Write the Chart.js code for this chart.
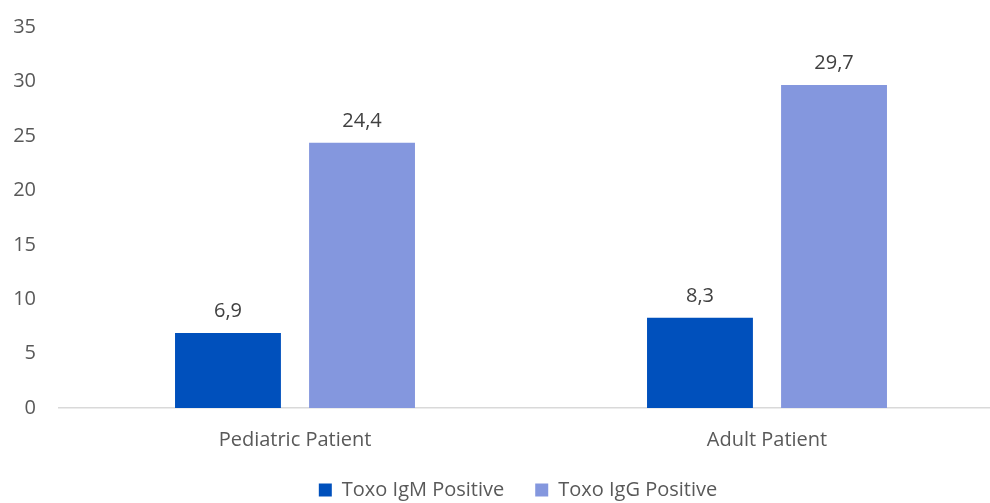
<!DOCTYPE html>
<html>
<head>
<meta charset="utf-8">
<script src="https://cdn.jsdelivr.net/npm/chart.js@4.4.1/dist/chart.umd.min.js"></script>
<style>
  html, body { margin: 0; padding: 0; background: #fff; overflow: hidden; }
  #wrap { position: relative; width: 1036px; height: 503px; }
</style>
</head>
<body>
<div id="wrap"><canvas id="toxoChart"></canvas></div>
<script>
    const categories = ['Pediatric Patient', 'Adult Patient'];
    const igmValues = [6.9, 8.3];
    const iggValues = [24.4, 29.7];
    const seriesNames = ['Toxo IgM Positive', 'Toxo IgG Positive'];
    const yTicks = [0, 5, 10, 15, 20, 25, 30, 35];

    const FONT = '"Open Sans", "Noto Sans", sans-serif';
    const FONT_SIZE = 20;

    // value labels above each bar, comma decimal like the original
    const barLabels = {
        id: 'barLabels',
        afterDatasetsDraw(chart) {
            const c = chart.ctx;
            c.save();
            c.font = FONT_SIZE + 'px ' + FONT;
            c.fillStyle = '#404040';
            c.textAlign = 'center';
            c.textBaseline = 'alphabetic';
            chart.data.datasets.forEach((ds, i) => {
                chart.getDatasetMeta(i).data.forEach((bar, j) => {
                    const txt = ds.data[j].toFixed(1).replace('.', ',');
                    c.fillText(txt, bar.x, bar.y - 16);
                });
            });
            c.restore();
        }
    };

    const ctx = document.getElementById('toxoChart').getContext('2d');
    const chart = new Chart(ctx, {
        type: 'bar',
        data: {
            labels: categories,
            datasets: [{
                label: seriesNames[0],
                data: igmValues,
                backgroundColor: '#0050BC',
                categoryPercentage: 0.568,
                barPercentage: 0.79
            }, {
                label: seriesNames[1],
                data: iggValues,
                backgroundColor: '#8497DE',
                categoryPercentage: 0.568,
                barPercentage: 0.79
            }]
        },
        options: {
            responsive: true,
            maintainAspectRatio: false,
            animation: false,
            layout: { padding: { top: 27.4, right: 0, left: 0, bottom: -7 } },
            plugins: {
                tooltip: { enabled: false },
                legend: {
                    position: 'bottom',
                    labels: {
                        font: { family: FONT, size: FONT_SIZE },
                        color: '#595959',
                        boxWidth: 13,
                        boxHeight: 13,
                        padding: 31,
                        useBorderRadius: false
                    }
                }
            },
            scales: {
                x: {
                    grid: { display: false, drawTicks: false },
                    border: { display: true, color: '#D9D9D9', width: 1.5 },
                    ticks: { font: { family: FONT, size: FONT_SIZE }, color: '#595959', padding: 20 },
                    afterFit(scale) { scale.height = 41; }
                },
                y: {
                    min: 0,
                    max: 35,
                    afterBuildTicks(scale) { scale.ticks = yTicks.map(v => ({ value: v })); },
                    // hidden tick marks give the gap between labels and plot
                    // (tick padding would also push the plot top down)
                    grid: { display: false, drawTicks: true, tickLength: 23 },
                    border: { display: false },
                    ticks: { font: { family: FONT, size: FONT_SIZE }, color: '#595959', padding: 0 },
                    afterFit(scale) { scale.width = 59; }
                },
                // empty right-hand spacer so the legend centres like the original
                spacer: {
                    type: 'linear',
                    position: 'right',
                    grid: { display: false, drawTicks: false },
                    border: { display: false },
                    ticks: { display: false },
                    afterFit(scale) { scale.width = 33; }
                }
            }
        },
        plugins: [barLabels]
    });
</script>
</body>
</html>
